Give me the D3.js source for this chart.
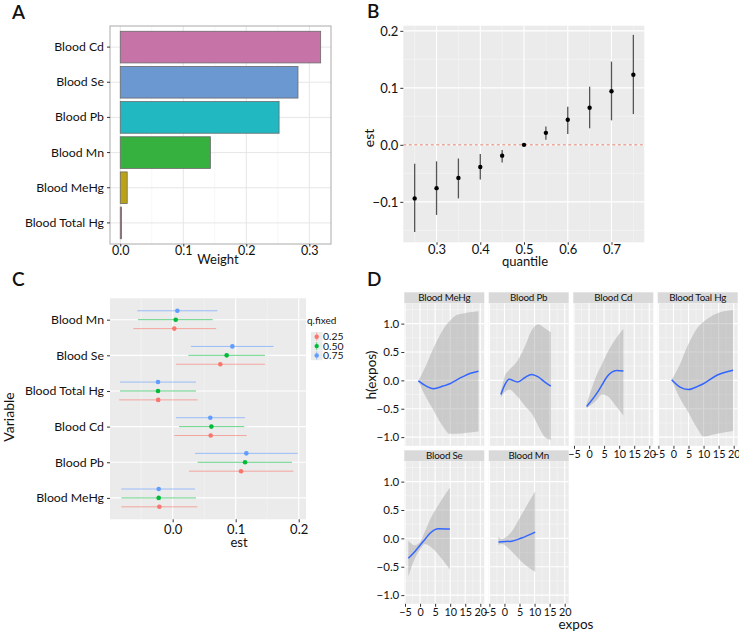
<!DOCTYPE html>
<html>
<head>
<meta charset="utf-8">
<script src="https://cdn.jsdelivr.net/npm/d3@7"></script>
<style>
body { margin: 0; background: #fff; }
text { font-family: Lato, "Noto Sans", sans-serif; fill: #111; }
</style>
</head>
<body>
<svg id="fig" width="739" height="634"></svg>
<script>
// ---- panel A : weights
var weightNames = ["Blood Cd", "Blood Se", "Blood Pb", "Blood Mn", "Blood MeHg", "Blood Total Hg"];
var weightValues = [0.318, 0.282, 0.252, 0.143, 0.011, 0.002];
var weightTicks = [0, 0.1, 0.2, 0.3];

// ---- panel B : quantile estimates
var quantiles = [0.25, 0.30, 0.35, 0.40, 0.45, 0.50, 0.55, 0.60, 0.65, 0.70, 0.75];
var quantEst  = [-0.094, -0.076, -0.058, -0.039, -0.019, 0, 0.021, 0.044, 0.065, 0.094, 0.123];
var quantLow  = [-0.153, -0.123, -0.094, -0.061, -0.031, 0, 0.009, 0.019, 0.029, 0.043, 0.054];
var quantHigh = [-0.033, -0.029, -0.024, -0.016, -0.009, 0, 0.032, 0.067, 0.102, 0.146, 0.193];
var quantTicksX = [0.3, 0.4, 0.5, 0.6, 0.7];
var quantTicksY = [-0.1, 0.0, 0.1, 0.2];

// ---- panel C : single variable effects
var cVars = ["Blood Mn", "Blood Se", "Blood Total Hg", "Blood Cd", "Blood Pb", "Blood MeHg"];
var qFixed = ["0.25", "0.50", "0.75"];
var est25 = [0.0026, 0.0756, -0.0230, 0.0603, 0.1085, -0.0212];
var lo25  = [-0.0625, 0.0052, -0.0850, 0.0026, 0.0259, -0.0815];
var hi25  = [0.0690, 0.1465, 0.0397, 0.1174, 0.1915, 0.0390];
var est50 = [0.0048, 0.0857, -0.0233, 0.0614, 0.1148, -0.0222];
var lo50  = [-0.0550, 0.0248, -0.0837, 0.0100, 0.0397, -0.0815];
var hi50  = [0.0635, 0.1465, 0.0370, 0.1137, 0.1894, 0.0370];
var est75 = [0.0074, 0.0947, -0.0233, 0.0597, 0.1169, -0.0222];
var lo75  = [-0.0560, 0.0290, -0.0837, 0.0052, 0.0354, -0.0815];
var hi75  = [0.0710, 0.1600, 0.0370, 0.1148, 0.1984, 0.0354];
var cTicksX = [0.0, 0.1, 0.2];

// ---- panel D : univariate exposure-response
var facetNames = ["Blood MeHg", "Blood Pb", "Blood Cd", "Blood Toal Hg", "Blood Se", "Blood Mn"];
var meHgX   = [-0.6, 2.2, 4.4, 7.7, 9.9, 12.2, 14.4, 16.5, 19.4];
var meHgEst = [-0.01, -0.105, -0.147, -0.10, -0.06, 0.01, 0.07, 0.12, 0.16];
var meHgLo  = [-0.01, -0.32, -0.52, -0.82, -0.94, -0.94, -0.93, -0.92, -0.90];
var meHgHi  = [-0.01, 0.29, 0.56, 0.90, 1.05, 1.15, 1.18, 1.20, 1.22];
var pbX   = [-1.2, 0.2, 1.5, 4.4, 6.8, 9.0, 11.2, 13.4, 15.4];
var pbEst = [-0.25, -0.07, 0.02, -0.03, 0.05, 0.105, 0.06, -0.03, -0.10];
var pbLo  = [-0.30, -0.20, -0.16, -0.29, -0.45, -0.58, -0.80, -1.00, -1.05];
var pbHi  = [-0.20, 0.09, 0.18, 0.35, 0.60, 0.88, 0.99, 0.92, 0.85];
var cdX   = [-0.8, 2.5, 4.2, 5.9, 9.2, 11.4];
var cdEst = [-0.46, -0.235, -0.09, 0.06, 0.176, 0.165];
var cdLo  = [-0.49, -0.35, -0.25, -0.27, -0.47, -0.62];
var cdHi  = [-0.42, 0.09, 0.28, 0.47, 0.76, 0.91];
var totHgX   = [-0.6, 2.2, 4.9, 8.3, 9.9, 14.4, 19.8];
var totHgEst = [0.01, -0.12, -0.16, -0.10, -0.06, 0.09, 0.18];
var totHgLo  = [0.01, -0.32, -0.56, -0.88, -0.99, -0.94, -0.89];
var totHgHi  = [0.01, 0.29, 0.63, 0.95, 1.03, 1.18, 1.24];
var seX   = [-3.9, -1.7, 0.0, 1.6, 3.3, 6.1, 9.9];
var seEst = [-0.35, -0.23, -0.12, -0.02, 0.09, 0.17, 0.165];
var seLo  = [-0.67, -0.35, -0.20, -0.10, -0.14, -0.29, -0.55];
var seHi  = [-0.04, -0.12, -0.065, 0.12, 0.33, 0.59, 0.89];
var mnX   = [-2.0, -0.9, 2.4, 5.7, 10.2];
var mnEst = [-0.065, -0.06, -0.05, 0.006, 0.11];
var mnLo  = [-0.12, -0.10, -0.23, -0.41, -0.59];
var mnHi  = [0.035, -0.01, 0.12, 0.42, 0.83];
var dTicksX = [-5, 0, 5, 10, 15, 20];
var dTicksY = [-1.0, -0.5, 0.0, 0.5, 1.0];

var barColors = ["#C673A8", "#6B98D0", "#22B8C2", "#36B03E", "#BBA214", "#C36F78"];
var qColors = ["#F8766D", "#00BA38", "#619CFF"];
var f1 = d3.format(".1f");

var svg = d3.select("#fig");

function panelLetter(x, y, t) {
    svg.append("text").attr("x", x).attr("y", y)
        .style("font-size", "19px").style("font-weight", "600").text(t);
}

function styleAxis(g, size) {
    g.select(".domain").remove();
    g.selectAll(".tick line").attr("stroke", "#333");
    g.selectAll(".tick text").style("font-size", size).style("font-family", "Lato, 'Noto Sans', sans-serif").attr("fill", "#111");
}

/////////////////// A
panelLetter(12, 19, "A");
var xA = d3.scaleLinear().domain([-0.0163, 0.3344]).range([110, 331]);
var yA = d3.scaleBand().domain(weightNames).range([26, 244]).paddingInner(0.1).paddingOuter(0.15);
var gA = svg.append("g");
gA.selectAll(".minor").data([0.05, 0.15, 0.25]).enter().append("line")
    .attr("x1", xA).attr("x2", xA).attr("y1", 26).attr("y2", 244)
    .attr("stroke", "#F0F0F0").attr("stroke-width", 0.6);
gA.selectAll(".major").data(weightTicks).enter().append("line")
    .attr("x1", xA).attr("x2", xA).attr("y1", 26).attr("y2", 244)
    .attr("stroke", "#E6E6E6").attr("stroke-width", 1);
gA.selectAll(".hgrid").data(weightNames).enter().append("line")
    .attr("x1", 110).attr("x2", 331)
    .attr("y1", function(d) { return yA(d) + yA.bandwidth() / 2 })
    .attr("y2", function(d) { return yA(d) + yA.bandwidth() / 2 })
    .attr("stroke", "#E6E6E6").attr("stroke-width", 1);
gA.selectAll(".bar").data(weightNames).enter().append("rect")
    .attr("x", xA(0))
    .attr("y", function(d) { return yA(d) })
    .attr("width", function(d, i) { return xA(weightValues[i]) - xA(0) })
    .attr("height", yA.bandwidth())
    .attr("fill", function(d, i) { return barColors[i] })
    .attr("stroke", "#6a6a6a").attr("stroke-width", 0.8);
gA.append("rect").attr("x", 110).attr("y", 26).attr("width", 221).attr("height", 218)
    .attr("fill", "none").attr("stroke", "#AAAAAA").attr("stroke-width", 1);
gA.append("g").attr("transform", "translate(110,0)")
    .call(d3.axisLeft(yA).tickSize(3).tickPadding(3))
    .call(styleAxis, "12.3px");
gA.append("g").attr("transform", "translate(0,244)")
    .call(d3.axisBottom(xA).tickValues(weightTicks).tickFormat(f1).tickSize(2.5).tickPadding(0))
    .call(styleAxis, "12.5px");
gA.append("text").attr("x", 218).attr("y", 264).attr("text-anchor", "middle")
    .style("font-size", "13px").text("Weight");

/////////////////// B
panelLetter(367, 18, "B");
var xB = d3.scaleLinear().domain([0.224, 0.775]).range([403.3, 644.3]);
var yB = d3.scaleLinear().domain([-0.171, 0.209]).range([242.3, 25.7]);
var gB = svg.append("g");
gB.append("rect").attr("x", 403.3).attr("y", 25.7).attr("width", 241).attr("height", 216.6).attr("fill", "#EBEBEB");
gB.selectAll(".vminor").data([0.25, 0.35, 0.45, 0.55, 0.65, 0.75]).enter().append("line")
    .attr("x1", xB).attr("x2", xB).attr("y1", 25.7).attr("y2", 242.3)
    .attr("stroke", "#F7F7F7").attr("stroke-width", 0.6);
gB.selectAll(".hminor").data([-0.15, -0.05, 0.05, 0.15]).enter().append("line")
    .attr("y1", yB).attr("y2", yB).attr("x1", 403.3).attr("x2", 644.3)
    .attr("stroke", "#F7F7F7").attr("stroke-width", 0.6);
gB.selectAll(".vmajor").data(quantTicksX).enter().append("line")
    .attr("x1", xB).attr("x2", xB).attr("y1", 25.7).attr("y2", 242.3)
    .attr("stroke", "#fff").attr("stroke-width", 1.1);
gB.selectAll(".hmajor").data(quantTicksY).enter().append("line")
    .attr("y1", yB).attr("y2", yB).attr("x1", 403.3).attr("x2", 644.3)
    .attr("stroke", "#fff").attr("stroke-width", 1.1);
gB.append("line").attr("x1", 403.3).attr("x2", 644.3).attr("y1", yB(0)).attr("y2", yB(0))
    .attr("stroke", "#E0806E").attr("stroke-width", 1).attr("stroke-dasharray", "3,2.5");
gB.selectAll(".ci").data(quantiles).enter().append("line")
    .attr("x1", xB).attr("x2", xB)
    .attr("y1", function(d, i) { return yB(quantLow[i]) })
    .attr("y2", function(d, i) { return yB(quantHigh[i]) })
    .attr("stroke", "#555").attr("stroke-width", 1.3);
gB.selectAll(".pt").data(quantiles).enter().append("circle")
    .attr("cx", xB).attr("cy", function(d, i) { return yB(quantEst[i]) })
    .attr("r", 2.2).attr("fill", "#000");
gB.append("g").attr("transform", "translate(403.3,0)")
    .call(d3.axisLeft(yB).tickValues(quantTicksY).tickFormat(f1).tickSize(3).tickPadding(2))
    .call(styleAxis, "13px");
gB.append("g").attr("transform", "translate(0,242.3)")
    .call(d3.axisBottom(xB).tickValues(quantTicksX).tickFormat(f1).tickSize(2.5).tickPadding(0))
    .call(styleAxis, "13px");
gB.append("text").attr("x", 525).attr("y", 266).attr("text-anchor", "middle")
    .style("font-size", "13px").text("quantile");
gB.append("text").attr("transform", "translate(374,138) rotate(-90)").attr("text-anchor", "middle")
    .style("font-size", "14px").text("est");

/////////////////// C
panelLetter(12, 286, "C");
var xC = d3.scaleLinear().domain([-0.0995, 0.2116]).range([110, 306]);
var yC = d3.scalePoint().domain(cVars).range([298.3, 519.3]).padding(0.6);
var dodge = yC.step() * 0.25;
var gC = svg.append("g");
gC.append("rect").attr("x", 110).attr("y", 298.3).attr("width", 196).attr("height", 221).attr("fill", "#EBEBEB");
gC.selectAll(".vminor").data([-0.05, 0.05, 0.15]).enter().append("line")
    .attr("x1", xC).attr("x2", xC).attr("y1", 298.3).attr("y2", 519.3)
    .attr("stroke", "#F7F7F7").attr("stroke-width", 0.6);
gC.selectAll(".vmajor").data(cTicksX).enter().append("line")
    .attr("x1", xC).attr("x2", xC).attr("y1", 298.3).attr("y2", 519.3)
    .attr("stroke", "#fff").attr("stroke-width", 1.1);
gC.selectAll(".hmajor").data(cVars).enter().append("line")
    .attr("y1", yC).attr("y2", yC).attr("x1", 110).attr("x2", 306)
    .attr("stroke", "#fff").attr("stroke-width", 1.1);

var cSeries = [
    { q: qFixed[0], est: est25, lo: lo25, hi: hi25, off: dodge },
    { q: qFixed[1], est: est50, lo: lo50, hi: hi50, off: 0 },
    { q: qFixed[2], est: est75, lo: lo75, hi: hi75, off: -dodge }
];
cSeries.forEach(function(s, k) {
    var g = gC.append("g");
    g.selectAll("line").data(cVars).enter().append("line")
        .attr("x1", function(d, i) { return xC(s.lo[i]) })
        .attr("x2", function(d, i) { return xC(s.hi[i]) })
        .attr("y1", function(d) { return yC(d) + s.off })
        .attr("y2", function(d) { return yC(d) + s.off })
        .attr("stroke", qColors[k]).attr("stroke-opacity", 0.6).attr("stroke-width", 1);
    g.selectAll("circle").data(cVars).enter().append("circle")
        .attr("cx", function(d, i) { return xC(s.est[i]) })
        .attr("cy", function(d) { return yC(d) + s.off })
        .attr("r", 2.3).attr("fill", qColors[k]);
});
gC.append("g").attr("transform", "translate(110,0)")
    .call(d3.axisLeft(yC).tickSize(3).tickPadding(3))
    .call(styleAxis, "12.3px");
gC.append("g").attr("transform", "translate(0,519.3)")
    .call(d3.axisBottom(xC).tickValues(cTicksX).tickFormat(f1).tickSize(3).tickPadding(2))
    .call(styleAxis, "13px");
gC.append("text").attr("x", 239).attr("y", 547).attr("text-anchor", "middle")
    .style("font-size", "13px").text("est");
gC.append("text").attr("transform", "translate(14,417) rotate(-90)").attr("text-anchor", "middle")
    .style("font-size", "14px").text("Variable");

// legend
var leg = gC.append("g");
leg.append("text").attr("x", 307).attr("y", 324).style("font-size", "10px").text("q.fixed");
qFixed.forEach(function(q, k) {
    var cy = 336.7 + k * 9.4;
    leg.append("rect").attr("x", 311).attr("y", cy - 4.7).attr("width", 11.5).attr("height", 9.4).attr("fill", "#EBEBEB");
    leg.append("line").attr("x1", 316.7).attr("x2", 316.7).attr("y1", cy - 4).attr("y2", cy + 4)
        .attr("stroke", qColors[k]).attr("stroke-opacity", 0.6).attr("stroke-width", 1);
    leg.append("circle").attr("cx", 316.7).attr("cy", cy).attr("r", 2.2).attr("fill", qColors[k]);
    leg.append("text").attr("x", 323).attr("y", cy + 3.6).style("font-size", "10.4px").text(q);
});

/////////////////// D
panelLetter(367, 286, "D");
var colL = [404.3, 488.7, 573.3, 657.7];
var panelW = 80;
var rowTop = [303.3, 461.3];
var panelH = 142.5;
var gD = svg.append("g");

var facets = [
    { name: facetNames[0], x: meHgX, est: meHgEst, lo: meHgLo, hi: meHgHi, col: 0, row: 0 },
    { name: facetNames[1], x: pbX, est: pbEst, lo: pbLo, hi: pbHi, col: 1, row: 0 },
    { name: facetNames[2], x: cdX, est: cdEst, lo: cdLo, hi: cdHi, col: 2, row: 0 },
    { name: facetNames[3], x: totHgX, est: totHgEst, lo: totHgLo, hi: totHgHi, col: 3, row: 0 },
    { name: facetNames[4], x: seX, est: seEst, lo: seLo, hi: seHi, col: 0, row: 1 },
    { name: facetNames[5], x: mnX, est: mnEst, lo: mnLo, hi: mnHi, col: 1, row: 1 }
];

facets.forEach(function(f) {
    var L = colL[f.col], T = rowTop[f.row];
    var xD = d3.scaleLinear().domain([-5.23, 21.33]).range([L, L + panelW]);
    var yD = d3.scaleLinear().domain([-1.153, 1.358]).range([T + panelH, T]);
    var g = gD.append("g");

    g.append("rect").attr("x", L).attr("y", T - 11).attr("width", panelW).attr("height", 11).attr("fill", "#D9D9D9");
    g.append("text").attr("x", L + panelW / 2).attr("y", T - 2.3).attr("text-anchor", "middle")
        .style("font-size", "9.8px").style("letter-spacing", "-0.2px").text(f.name);
    g.append("rect").attr("x", L).attr("y", T).attr("width", panelW).attr("height", panelH).attr("fill", "#EBEBEB");

    g.selectAll(".vminor").data([-2.5, 2.5, 7.5, 12.5, 17.5]).enter().append("line")
        .attr("x1", xD).attr("x2", xD).attr("y1", T).attr("y2", T + panelH)
        .attr("stroke", "#F7F7F7").attr("stroke-width", 0.6);
    g.selectAll(".hminor").data([-0.75, -0.25, 0.25, 0.75, 1.25]).enter().append("line")
        .attr("y1", yD).attr("y2", yD).attr("x1", L).attr("x2", L + panelW)
        .attr("stroke", "#F7F7F7").attr("stroke-width", 0.6);
    g.selectAll(".vmajor").data(dTicksX).enter().append("line")
        .attr("x1", xD).attr("x2", xD).attr("y1", T).attr("y2", T + panelH)
        .attr("stroke", "#fff").attr("stroke-width", 1.1);
    g.selectAll(".hmajor").data(dTicksY).enter().append("line")
        .attr("y1", yD).attr("y2", yD).attr("x1", L).attr("x2", L + panelW)
        .attr("stroke", "#fff").attr("stroke-width", 1.1);

    var band = d3.area().curve(d3.curveMonotoneX)
        .x(function(d, i) { return xD(f.x[i]) })
        .y0(function(d, i) { return yD(f.lo[i]) })
        .y1(function(d, i) { return yD(f.hi[i]) });
    g.append("path").datum(f.x).attr("d", band).attr("fill", "#999999").attr("fill-opacity", 0.4);

    var line = d3.line().curve(d3.curveMonotoneX)
        .x(function(d, i) { return xD(f.x[i]) })
        .y(function(d, i) { return yD(f.est[i]) });
    g.append("path").datum(f.x).attr("d", line).attr("fill", "none")
        .attr("stroke", "#3366FF").attr("stroke-width", 1.5);

    if (f.col == 0) {
        g.append("g").attr("transform", "translate(" + L + ",0)")
            .call(d3.axisLeft(yD).tickValues(dTicksY).tickFormat(f1).tickSize(3).tickPadding(2))
            .call(styleAxis, "11.5px");
    }
    if (f.row == 1 || f.col >= 2) {
        g.append("g").attr("transform", "translate(0," + (T + panelH) + ")")
            .call(d3.axisBottom(xD).tickValues(dTicksX).tickSize(3).tickPadding(2))
            .call(styleAxis, "10.8px");
    }
});
gD.append("text").attr("x", 576).attr("y", 629).attr("text-anchor", "middle")
    .style("font-size", "13.5px").text("expos");
gD.append("text").attr("transform", "translate(376,375) rotate(-90)").attr("text-anchor", "middle")
    .style("font-size", "13.5px").text("h(expos)");
</script>
</body>
</html>
